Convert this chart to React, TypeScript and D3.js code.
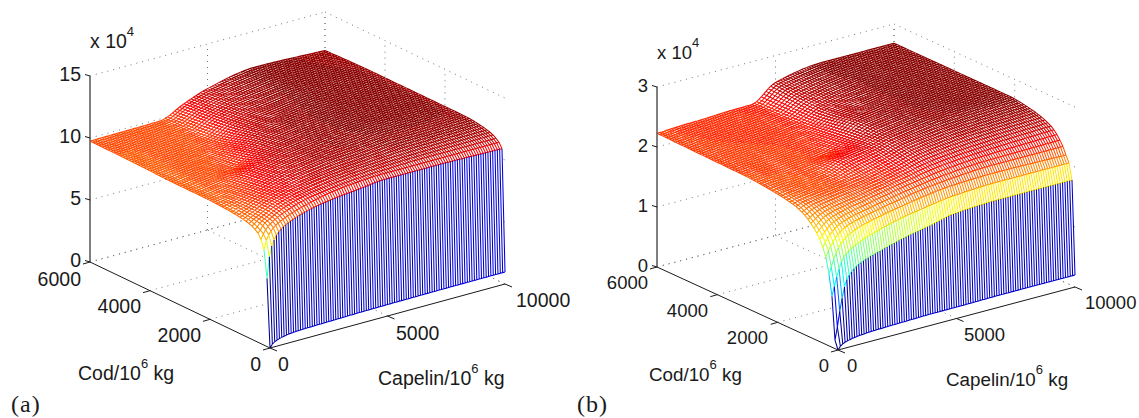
import React from "react";
import * as d3 from "d3";

// Surface heights at these knots (units of 10^4).
// The 101 x 61 mesh between knots is refined with a monotone cubic, the picture
// can't be read node by node.
const capelinKnots = [0, 100, 200, 500, 1000, 2000, 3000, 4000, 5000, 7000, 10000];
const codKnots = [0, 100, 200, 300, 400, 800, 1400, 2200, 3000, 4500, 6000];

const surfaceA = [
  [0, 0.25, 0.4, 0.6, 0.75, 0.82, 0.86, 0.9, 0.92, 0.95, 0.97],
  [5.5, 7.2, 8.0, 9.0, 9.6, 10.2, 10.5, 10.7, 10.9, 10.9, 10.8],
  [7.7, 8.4, 8.8, 9.4, 9.9, 10.5, 10.9, 11.1, 11.2, 11.2, 11.2],
  [8.4, 8.8, 9.1, 9.6, 10.1, 10.7, 11.0, 11.2, 11.3, 11.4, 11.4],
  [8.8, 9.0, 9.3, 9.7, 10.2, 10.8, 11.1, 11.3, 11.4, 11.5, 11.56],
  [9.3, 9.4, 9.5, 9.8, 10.3, 10.9, 11.3, 11.5, 11.6, 11.8, 11.85],
  [9.5, 9.5, 9.6, 9.8, 10.2, 10.9, 11.4, 11.7, 11.8, 12.0, 12.0],
  [9.6, 9.6, 9.6, 9.7, 9.9, 10.7, 11.3, 11.7, 11.9, 12.1, 12.0],
  [9.6, 9.6, 9.6, 9.7, 9.8, 10.0, 10.9, 11.6, 11.9, 12.1, 12.0],
  [9.7, 9.7, 9.7, 9.7, 9.75, 9.8, 10.0, 11.0, 11.6, 12.1, 12.0],
  [9.75, 9.75, 9.75, 9.77, 9.78, 9.8, 9.85, 10.7, 11.4, 12.1, 11.9],
];

const surfaceB = [
  [0, 0.05, 0.08, 0.12, 0.15, 0.17, 0.18, 0.19, 0.19, 0.2, 0.2],
  [0.14, 0.35, 0.6, 1.1, 1.3, 1.44, 1.55, 1.63, 1.72, 1.76, 1.76],
  [0.85, 1.0, 1.15, 1.45, 1.6, 1.75, 1.85, 1.92, 1.98, 2.02, 2.02],
  [1.2, 1.3, 1.42, 1.65, 1.8, 1.92, 2.0, 2.07, 2.12, 2.15, 2.13],
  [1.45, 1.55, 1.62, 1.78, 1.9, 2.0, 2.08, 2.15, 2.2, 2.25, 2.25],
  [1.85, 1.88, 1.92, 2.0, 2.06, 2.14, 2.22, 2.3, 2.38, 2.45, 2.5],
  [2.07, 2.08, 2.1, 2.13, 2.16, 2.2, 2.27, 2.38, 2.5, 2.58, 2.62],
  [2.15, 2.15, 2.16, 2.17, 2.18, 2.21, 2.36, 2.44, 2.56, 2.65, 2.68],
  [2.19, 2.19, 2.19, 2.2, 2.2, 2.22, 2.25, 2.38, 2.58, 2.66, 2.68],
  [2.21, 2.21, 2.21, 2.22, 2.23, 2.24, 2.25, 2.3, 2.5, 2.66, 2.68],
  [2.23, 2.23, 2.23, 2.24, 2.25, 2.26, 2.28, 2.29, 2.55, 2.68, 2.68],
];

const capelinGrid = d3.range(0, 10001, 100);
const codGrid = d3.range(0, 6001, 100);
const capelinTicks = [0, 5000, 10000];
const codTicks = [0, 2000, 4000, 6000];
const zTicksA = [0, 5, 10, 15];
const zTicksB = [0, 1, 2, 3];

const jet = d3
  .scaleLinear<string>()
  .domain([0, 0.125, 0.375, 0.625, 0.875, 1])
  .range(["#000080", "#0000ff", "#00ffff", "#ffff00", "#ff0000", "#800000"])
  .clamp(true);

const FONT = "'Liberation Sans', Arial, sans-serif";

// monotone cubic through (xs, ys), so the mesh has no creases at the knots
function monotone(xs: number[], ys: number[]) {
  const n = xs.length;
  const h = d3.range(n - 1).map((i) => xs[i + 1] - xs[i]);
  const s = d3.range(n - 1).map((i) => (ys[i + 1] - ys[i]) / h[i]);
  const m = xs.map((_, i) => {
    if (i === 0) return s[0];
    if (i === n - 1) return s[n - 2];
    if (s[i - 1] * s[i] <= 0) return 0;
    const w1 = 2 * h[i] + h[i - 1];
    const w2 = h[i] + 2 * h[i - 1];
    return (w1 + w2) / (w1 / s[i - 1] + w2 / s[i]);
  });
  return (x: number) => {
    const i = Math.min(n - 2, Math.max(0, d3.bisectRight(xs, x) - 1));
    const t = (x - xs[i]) / h[i];
    const t2 = t * t;
    const t3 = t2 * t;
    return (
      (2 * t3 - 3 * t2 + 1) * ys[i] +
      (t3 - 2 * t2 + t) * h[i] * m[i] +
      (-2 * t3 + 3 * t2) * ys[i + 1] +
      (t3 - t2) * h[i] * m[i + 1]
    );
  };
}

function Panel({ p }: { p: any }) {
  // projection: front corner + capelin vector + cod vector + height vector
  const capX = d3.scaleLinear().domain([0, 10000]).range([0, p.right[0] - p.front[0]]);
  const capY = d3.scaleLinear().domain([0, 10000]).range([0, p.right[1] - p.front[1]]);
  const codX = d3.scaleLinear().domain([0, 6000]).range([0, p.left[0] - p.front[0]]);
  const codY = d3.scaleLinear().domain([0, 6000]).range([0, p.left[1] - p.front[1]]);
  const zY = d3.scaleLinear().domain([0, p.zMax]).range([0, -p.height]);
  const px = (c: number, d: number) => p.front[0] + capX(c) + codX(d);
  const py = (c: number, d: number, z = 0) => p.front[1] + capY(c) + codY(d) + zY(z);

  const rows = p.surface.map((r: number[]) => monotone(capelinKnots, r));
  const zGrid = capelinGrid.map((c) => {
    const col = monotone(codKnots, rows.map((s: any) => s(c)));
    return codGrid.map((d) => col(d));
  });
  const colorLevel = (z: number) => Math.min(63, Math.floor((z / p.cMax) * 64));

  // segments per colour level; a segment takes the colour of its lower-index node
  const paths = new Map<number, d3.Path>();
  const node = (i: number, j: number): [number, number] => [
    px(capelinGrid[i], codGrid[j]),
    py(capelinGrid[i], codGrid[j], zGrid[i][j]),
  ];
  capelinGrid.forEach((_, i) => {
    codGrid.forEach((_, j) => {
      const lvl = colorLevel(zGrid[i][j]);
      if (!paths.has(lvl)) paths.set(lvl, d3.path());
      const path = paths.get(lvl)!;
      const a = node(i, j);
      if (i < capelinGrid.length - 1) {
        const b = node(i + 1, j);
        path.moveTo(a[0], a[1]);
        path.lineTo(b[0], b[1]);
      }
      if (j < codGrid.length - 1) {
        const b = node(i, j + 1);
        path.moveTo(a[0], a[1]);
        path.lineTo(b[0], b[1]);
      }
    });
  });
  const levels = Array.from(paths.keys()).sort((a, b) => b - a);

  // white silhouette hides the dotted grid behind the mesh
  const lastI = capelinGrid.length - 1;
  const lastJ = codGrid.length - 1;
  const outline: [number, number][] = [
    ...capelinGrid.map((_, i) => node(i, 0)),
    ...codGrid.map((_, j) => node(lastI, j)),
    ...capelinGrid.map((_, i) => node(lastI - i, lastJ)),
    ...codGrid.map((_, j) => node(0, lastJ - j)),
  ];
  const outlinePath = d3.line()(outline) + "Z";

  const dots = { stroke: "#666", strokeWidth: 0.9, strokeDasharray: "1 5", fill: "none" };
  const seg = (a: number[], b: number[]) => `M${a[0]},${a[1]}L${b[0]},${b[1]}`;
  let grid = "";
  p.zTicks.forEach((t: number) => {
    const z = (t / p.zAxisTop) * p.zMax;
    grid += seg([px(0, 6000), py(0, 6000, z)], [px(10000, 6000), py(10000, 6000, z)]);
    grid += seg([px(10000, 6000), py(10000, 6000, z)], [px(10000, 0), py(10000, 0, z)]);
  });
  capelinTicks.slice(1).forEach((c) => {
    grid += seg([px(c, 6000), py(c, 6000, 0)], [px(c, 6000), py(c, 6000, p.zMax)]);
    grid += seg([px(c, 0), py(c, 0, 0)], [px(c, 6000), py(c, 6000, 0)]);
  });
  codTicks.slice(1).forEach((d) => {
    grid += seg([px(10000, d), py(10000, d, 0)], [px(10000, d), py(10000, d, p.zMax)]);
    grid += seg([px(0, d), py(0, d, 0)], [px(10000, d), py(10000, d, 0)]);
  });

  let ticks = "";
  capelinTicks.forEach((c) => {
    ticks += seg([px(c, 0), py(c, 0)], [px(c, 0) + 7, py(c, 0) + 3]);
  });
  codTicks.forEach((d) => {
    ticks += seg([px(0, d), py(0, d)], [px(0, d) - 7, py(0, d) + 2]);
  });
  let zTickMarks = "";
  p.zTicks.forEach((t: number) => {
    const z = (t / p.zAxisTop) * p.zMax;
    zTickMarks += seg([px(0, 6000), py(0, 6000, z)], [px(0, 6000) - 5, py(0, 6000, z) - 1.5]);
  });

  const t = { fontFamily: FONT, fontSize: p.fontSize, fill: "#1a1a1a" };
  return (
    <g>
      <path d={grid} {...dots} />
      <path d={outlinePath} fill="#fff" />
      {levels.map((lvl) => (
        <path
          key={lvl}
          d={paths.get(lvl)!.toString()}
          fill="none"
          stroke={jet((lvl + 0.5) / 64)}
          strokeWidth={1.05}
        />
      ))}
      <path d={seg(p.front, p.left) + seg(p.front, p.right) + ticks} stroke="#1a1a1a" strokeWidth={1} fill="none" />
      <path
        d={seg([px(0, 6000), py(0, 6000, 0)], [px(0, 6000), py(0, 6000, p.zMax)])}
        stroke="#555"
        strokeWidth={1.5}
        fill="none"
      />
      <path d={zTickMarks} stroke="#1a1a1a" strokeWidth={1} fill="none" />
      {p.zTicks.map((v: number, i: number) => (
        <text key={v} x={p.zLabelX} y={p.zLabelY[i]} textAnchor="end" {...t}>
          {v}
        </text>
      ))}
      {p.codLabels.map((l: any) => (
        <text key={l.v} x={l.x} y={l.y} textAnchor="end" {...t}>
          {l.v}
        </text>
      ))}
      {p.capLabels.map((l: any) => (
        <text key={l.v} x={l.x} y={l.y} {...t}>
          {l.v}
        </text>
      ))}
      <text x={p.exp[0]} y={p.exp[1]} {...t}>
        x 10
        <tspan dy={-12} fontSize={13}>
          4
        </tspan>
      </text>
      <text x={p.codTitle[0]} y={p.codTitle[1]} {...t} fontSize={p.titleSize}>
        Cod/10
        <tspan dy={-12} fontSize={13}>
          6
        </tspan>
        <tspan dy={12}> kg</tspan>
      </text>
      <text x={p.capTitle[0]} y={p.capTitle[1]} {...t} fontSize={p.titleSize}>
        Capelin/10
        <tspan dy={-12} fontSize={13}>
          6
        </tspan>
        <tspan dy={12}> kg</tspan>
      </text>
      <text x={p.tag[0]} y={p.tag[1]} fontFamily="'Liberation Serif', serif" fontSize={24} letterSpacing={1} fill="#1a1a1a">
        {p.tagText}
      </text>
    </g>
  );
}

const panelA = {
  surface: surfaceA,
  front: [270, 348],
  left: [90, 262],
  right: [505, 284],
  height: 186,
  zMax: 15,
  zAxisTop: 15,
  cMax: 12.2,
  zTicks: zTicksA,
  fontSize: 19.5,
  titleSize: 19.5,
  zLabelX: 81,
  zLabelY: [267, 205, 143, 81],
  codLabels: [
    { v: "6000", x: 81, y: 286 },
    { v: "4000", x: 141, y: 313 },
    { v: "2000", x: 201, y: 342 },
    { v: "0", x: 261, y: 371 },
  ],
  capLabels: [
    { v: "0", x: 278, y: 371 },
    { v: "5000", x: 396, y: 340 },
    { v: "10000", x: 516, y: 307 },
  ],
  exp: [90, 48],
  codTitle: [78, 380],
  capTitle: [378, 385],
  tag: [11, 412],
  tagText: "(a)",
};

const panelB = {
  surface: surfaceB,
  front: [838, 350],
  left: [657, 267],
  right: [1075, 287],
  height: 180,
  zMax: 3,
  zAxisTop: 3,
  cMax: 2.7,
  zTicks: zTicksB,
  fontSize: 18.5,
  titleSize: 18.8,
  zLabelX: 648,
  zLabelY: [272, 212, 152, 92],
  codLabels: [
    { v: "6000", x: 648, y: 289 },
    { v: "4000", x: 708, y: 317 },
    { v: "2000", x: 768, y: 344 },
    { v: "0", x: 829, y: 372 },
  ],
  capLabels: [
    { v: "0", x: 847, y: 372 },
    { v: "5000", x: 964, y: 341 },
    { v: "10000", x: 1085, y: 309 },
  ],
  exp: [657, 59],
  codTitle: [649, 381],
  capTitle: [946, 386],
  tag: [577, 412],
  tagText: "(b)",
};

export default function App() {
  return (
    <svg
      width={1139}
      height={418}
      style={{ position: "absolute", left: 0, top: 0, background: "#fff" }}
    >
      <Panel p={panelA} />
      <Panel p={panelB} />
    </svg>
  );
}
